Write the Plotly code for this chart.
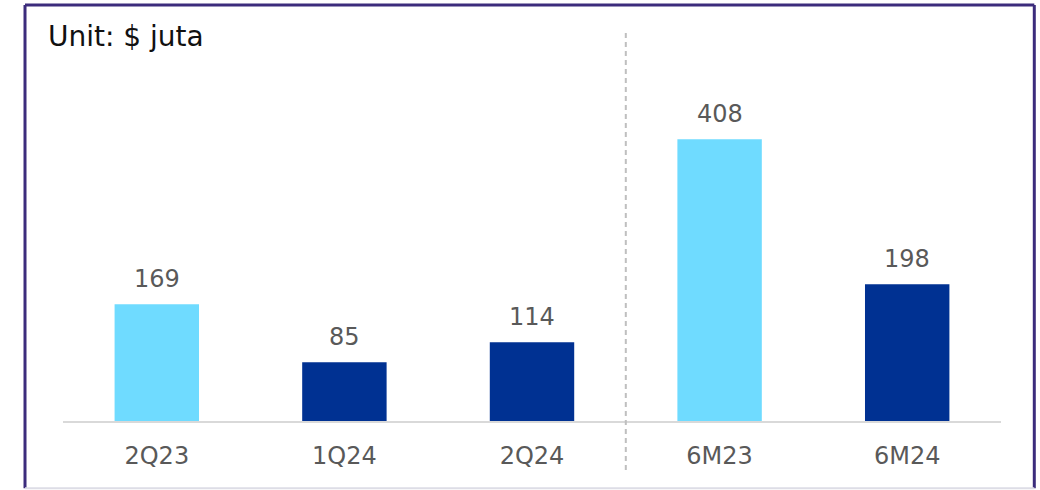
import plotly.graph_objects as go

categories = ["2Q23", "1Q24", "2Q24", "6M23", "6M24"]
values = [169, 85, 114, 408, 198]
bar_colors = ["#6FDBFF", "#003192", "#003192", "#6FDBFF", "#003192"]
unit_label = "Unit: $ juta"

FONT = "DejaVu Sans"
fig = go.Figure()
fig.add_trace(go.Bar(
    x=categories, y=values, marker=dict(color=bar_colors, line=dict(width=0)),
    width=0.45, hoverinfo="skip",
))

for c, v in zip(categories, values):
    fig.add_annotation(x=c, y=v, text=str(v), showarrow=False, yanchor="bottom",
                       yshift=9, font=dict(family=FONT, size=24, color="#595959"))

fig.add_annotation(xref="paper", yref="paper", x=-0.018, y=0.983, xanchor="left", yanchor="middle",
                   text=unit_label, showarrow=False, font=dict(family=FONT, size=28, color="#111111"))

# separator
fig.add_shape(type="line", xref="x", yref="paper", x0=2.5, x1=2.5, y0=-0.125, y1=1.0,
              line=dict(color="#BFBFBF", width=2, dash="5px,4px"))

# frame
L, R, T, B = -0.0405, 1.0355, 1.0639, -0.172
fig.add_shape(type="line", xref="paper", yref="paper", x0=L, x1=R, y0=T, y1=T, line=dict(color="#3C2C7C", width=3))
fig.add_shape(type="line", xref="paper", yref="paper", x0=L, x1=L, y0=B, y1=T, line=dict(color="#3C2C7C", width=3))
fig.add_shape(type="line", xref="paper", yref="paper", x0=R, x1=R, y0=B, y1=T, line=dict(color="#3C2C7C", width=3))
fig.add_shape(type="line", xref="paper", yref="paper", x0=L, x1=R, y0=B, y1=B, line=dict(color="#DDDDE6", width=2))

fig.update_layout(
    width=1040, height=490,
    margin=dict(l=63, r=39, t=30, b=69),
    paper_bgcolor="white", plot_bgcolor="white",
    showlegend=False,
    xaxis=dict(showline=True, linecolor="#D9D9D9", linewidth=2, ticks="", showgrid=False,
               tickfont=dict(family=FONT, size=24, color="#595959"), ticklabelstandoff=12),
    yaxis=dict(range=[0, 566], visible=False, showgrid=False, zeroline=False),
)
fig.write_html("out.html", config={"displayModeBar": False},
               post_script="document.body.style.margin='0';document.body.style.overflow='hidden';")
